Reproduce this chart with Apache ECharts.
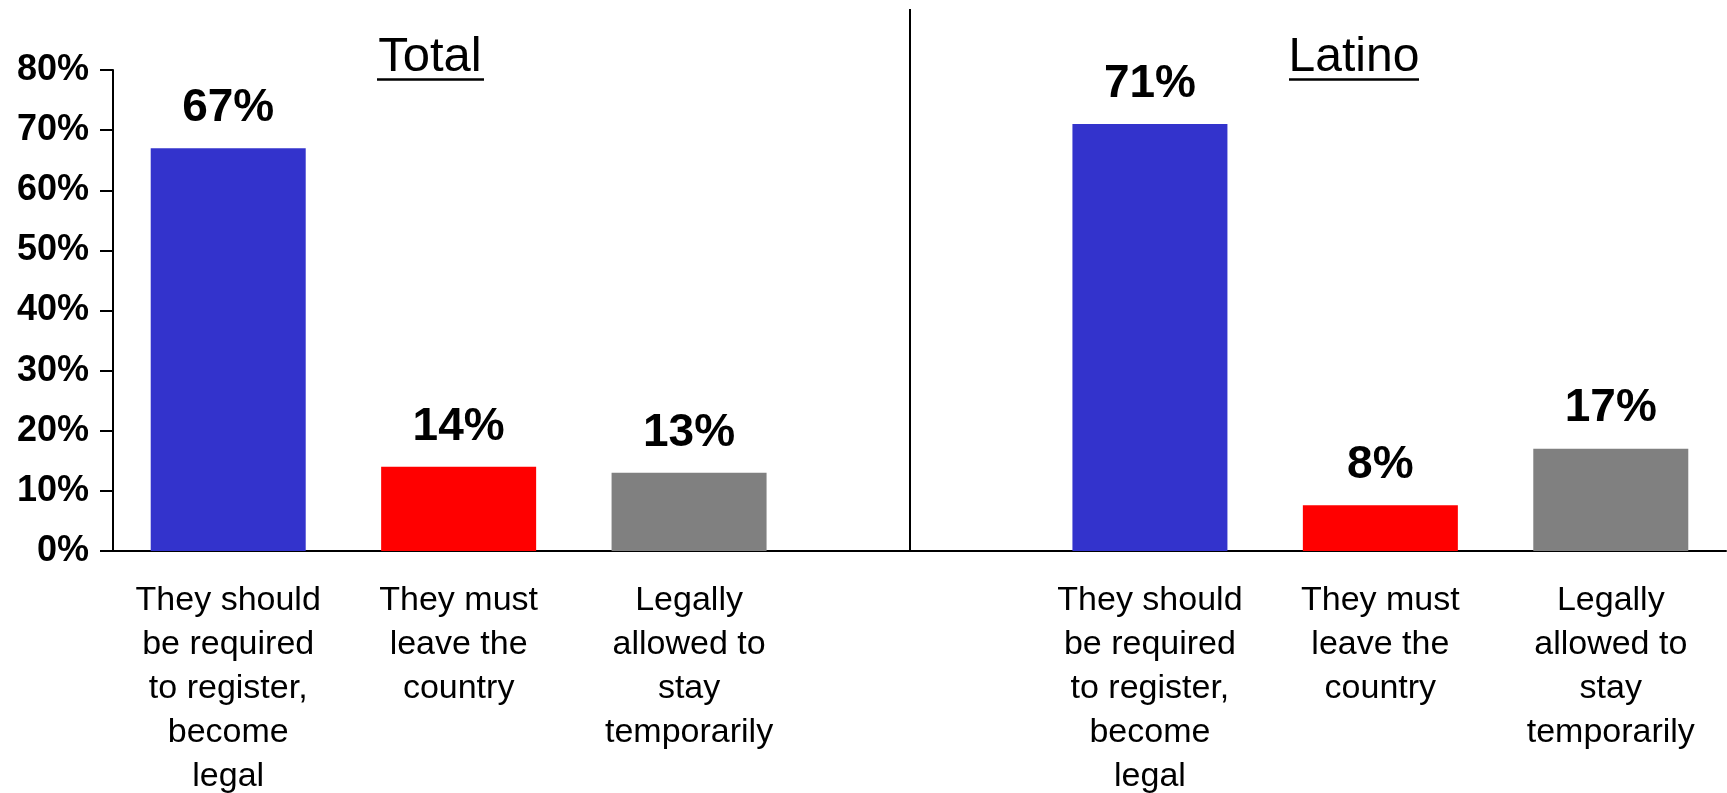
<!DOCTYPE html>
<html>
<head>
<meta charset="utf-8">
<script src="https://cdn.jsdelivr.net/npm/echarts@6/dist/echarts.min.js"></script>
<style>
html,body{margin:0;padding:0;background:#fff;}
#chart{width:1727px;height:793px;}
</style>
</head>
<body>
<div id="chart"></div>
<script>
const categories = [
  'They should\nbe required\nto register,\nbecome\nlegal',
  'They must\nleave the\ncountry',
  'Legally\nallowed to\nstay\ntemporarily'
];
const groupTitles = ['Total', 'Latino'];
const totalValues = [67, 14, 13];
const latinoValues = [71, 7.6, 17];
const totalLabels = ['67%', '14%', '13%'];
const latinoLabels = ['71%', '8%', '17%'];
const barColors = ['#3333CC', '#FF0000', '#808080'];
const yTickLabels = ['0%', '10%', '20%', '30%', '40%', '50%', '60%', '70%', '80%'];

const FONT = '"Liberation Sans", Arial, sans-serif';

const xData = categories.concat(['']).concat(categories);
const seriesData = [];
totalValues.forEach((v, i) => seriesData.push({value: v, itemStyle: {color: barColors[i]}, labelText: totalLabels[i]}));
seriesData.push('-');
latinoValues.forEach((v, i) => seriesData.push({value: v, itemStyle: {color: barColors[i]}, labelText: latinoLabels[i]}));

const chart = echarts.init(document.getElementById('chart'), null, {renderer: 'canvas'});
chart.setOption({
  animation: false,
  backgroundColor: '#ffffff',
  grid: {left: 113, right: 1, top: 70, bottom: 242, containLabel: false, outerBoundsMode: 'none'},
  xAxis: {
    type: 'category',
    data: xData,
    axisLine: {show: true, lineStyle: {color: '#000', width: 2}},
    axisTick: {show: false},
    axisLabel: {
      interval: 0,
      margin: 28,
      color: '#000',
      fontFamily: FONT,
      fontSize: 34,
      lineHeight: 44,
      align: 'center'
    },
    splitLine: {show: false}
  },
  yAxis: {
    type: 'value',
    min: 0,
    max: 80,
    interval: 10,
    axisLine: {show: true, lineStyle: {color: '#000', width: 2}},
    axisTick: {show: true, inside: false, length: 13, lineStyle: {color: '#000', width: 2}},
    axisLabel: {
      margin: 24,
      color: '#000',
      fontFamily: FONT,
      fontWeight: 'bold',
      fontSize: 36,
      formatter: (v) => yTickLabels[Math.round(v / 10)]
    },
    splitLine: {show: false}
  },
  series: [{
    type: 'bar',
    data: seriesData,
    barWidth: 155,
    label: {
      show: true,
      position: 'top',
      distance: 17,
      color: '#000',
      fontFamily: FONT,
      fontWeight: 'bold',
      fontSize: 46,
      formatter: (p) => p.data.labelText
    }
  }],
  graphic: [
    {type: 'line', shape: {x1: 910, y1: 9, x2: 910, y2: 551}, style: {stroke: '#000', lineWidth: 2}, z: 10},
    {type: 'text', x: 430, y: 82, style: {text: groupTitles[0], font: '49px ' + FONT, fill: '#000', align: 'center', verticalAlign: 'bottom'}},
    {type: 'line', shape: {x1: 377, y1: 79.5, x2: 484, y2: 79.5}, style: {stroke: '#000', lineWidth: 2.5}},
    {type: 'text', x: 1354, y: 82, style: {text: groupTitles[1], font: '48px ' + FONT, fill: '#000', align: 'center', verticalAlign: 'bottom'}},
    {type: 'line', shape: {x1: 1289, y1: 79.5, x2: 1419, y2: 79.5}, style: {stroke: '#000', lineWidth: 2.5}}
  ]
});
</script>
</body>
</html>
